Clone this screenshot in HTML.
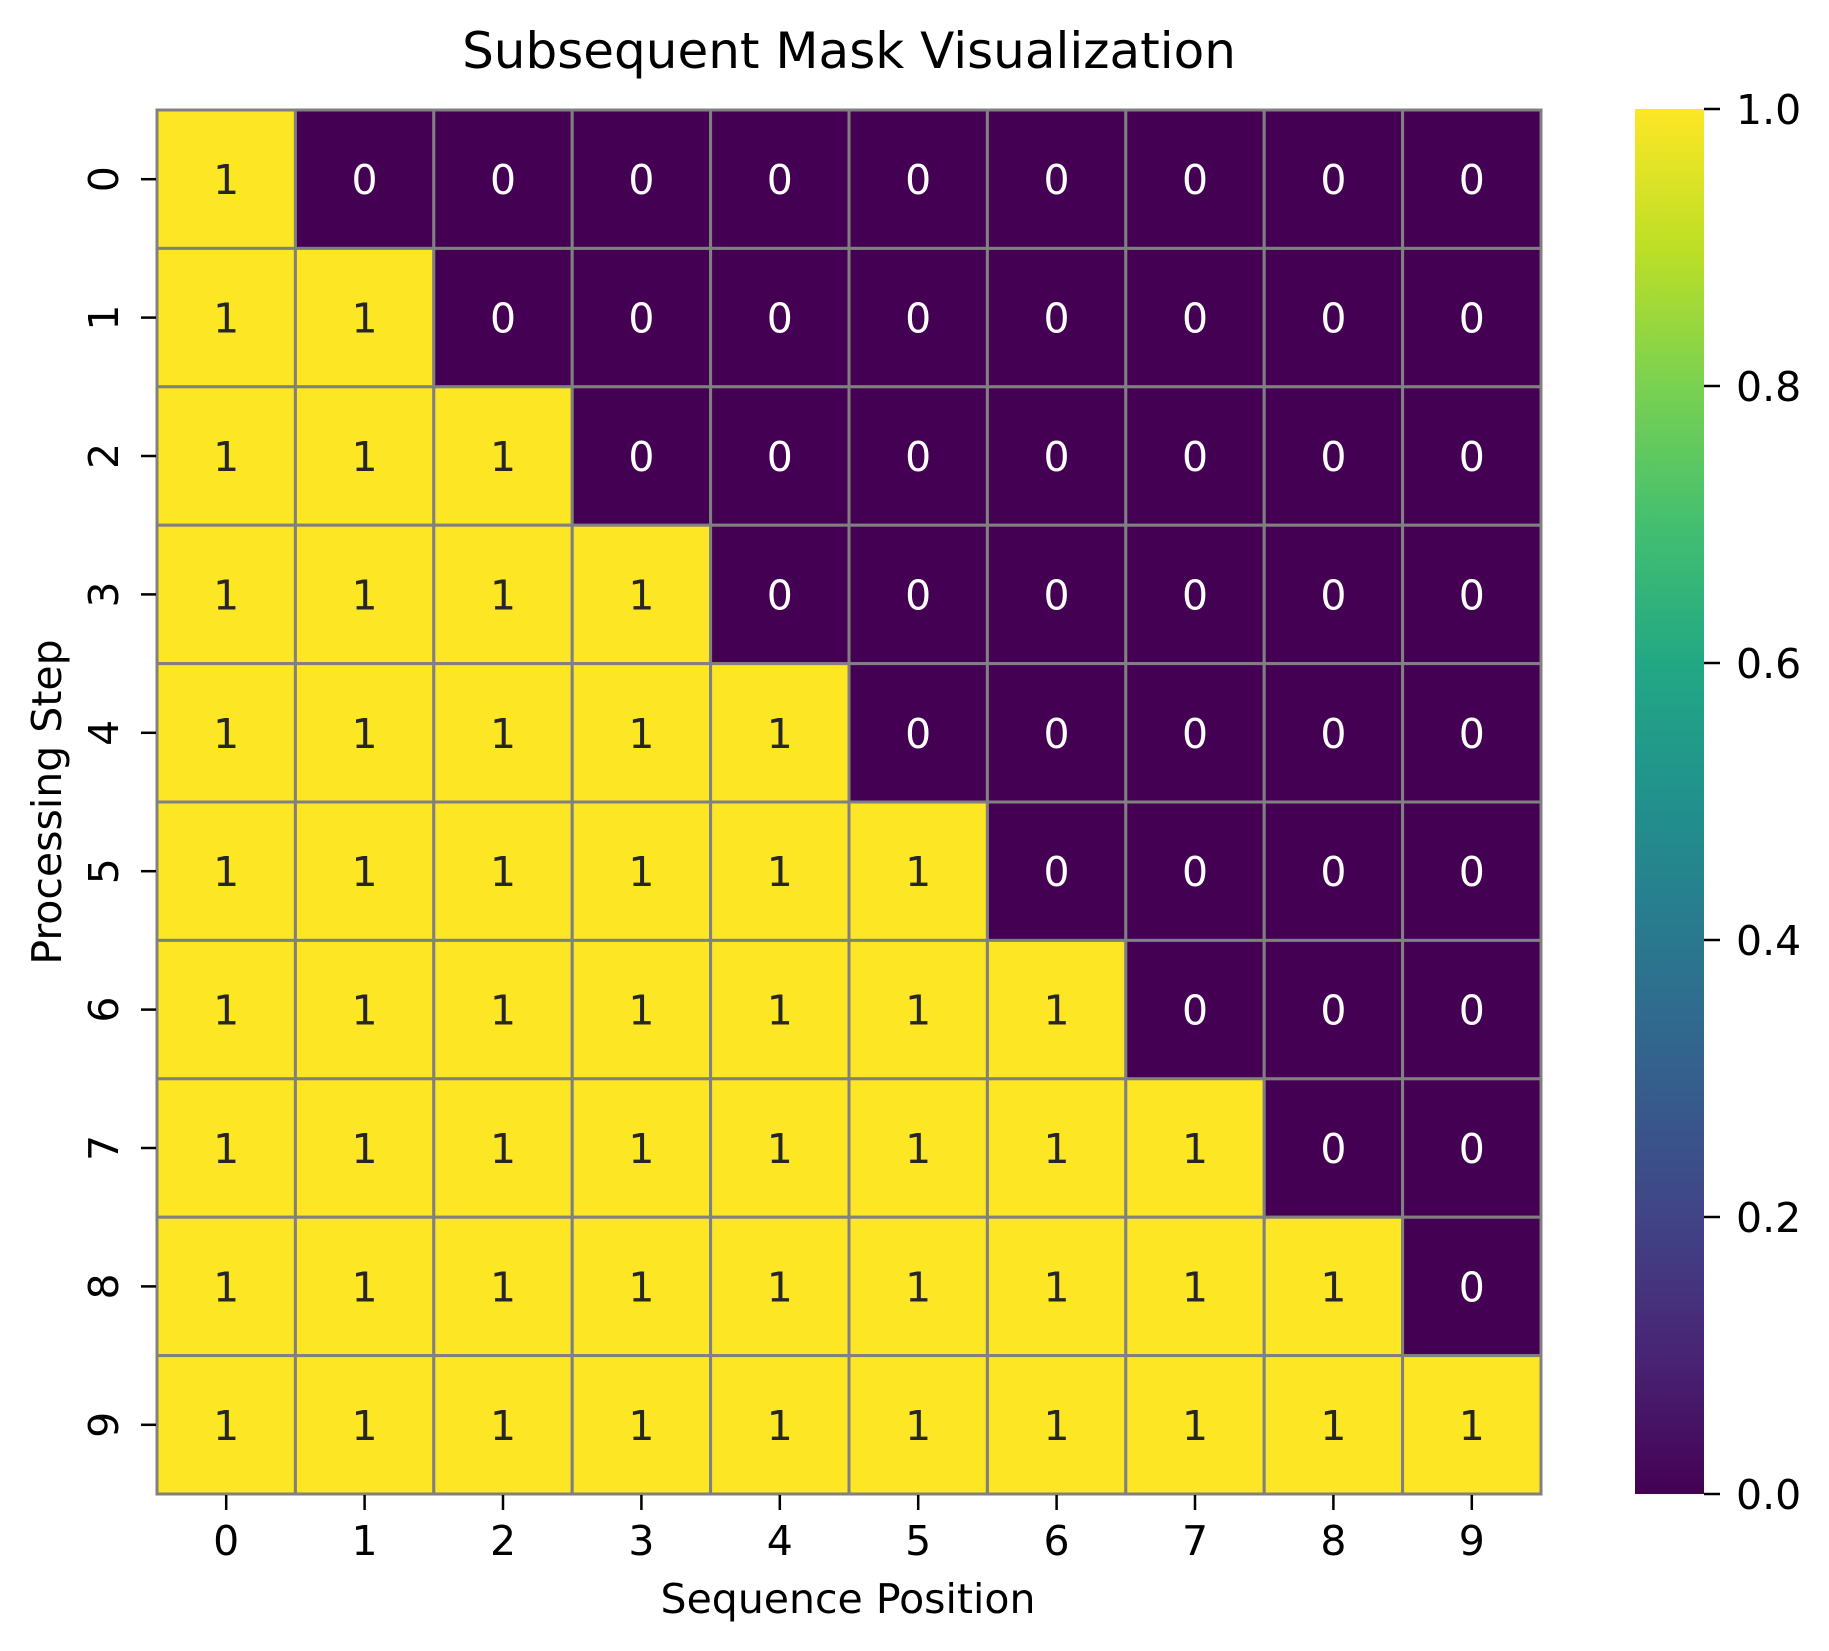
<!DOCTYPE html>
<html><head><meta charset="utf-8"><style>
html,body{margin:0;padding:0;background:#fff;}
svg{display:block;font-family:"DejaVu Sans","Liberation Sans",sans-serif;}
</style></head><body>
<svg id="chart" width="1829" height="1651" viewBox="0 0 1829 1651">
<defs>
<linearGradient id="viridis" x1="0" y1="1" x2="0" y2="0">
<stop offset="0" stop-color="#440154"/><stop offset="0.1" stop-color="#482475"/>
<stop offset="0.2" stop-color="#414487"/><stop offset="0.3" stop-color="#355f8d"/>
<stop offset="0.4" stop-color="#2a788e"/><stop offset="0.5" stop-color="#21918c"/>
<stop offset="0.6" stop-color="#22a884"/><stop offset="0.7" stop-color="#44bf70"/>
<stop offset="0.8" stop-color="#7ad151"/><stop offset="0.9" stop-color="#bddf26"/>
<stop offset="1" stop-color="#fde725"/>
</linearGradient>
</defs>
<text x="849" y="68" font-size="50" text-anchor="middle">Subsequent Mask Visualization</text>
<g id="cells"></g>
<g id="axes"></g>
<rect x="1635" y="109" width="69" height="1385" fill="url(#viridis)"/>
<g id="cbar"></g>
<text x="848" y="1613" font-size="41" text-anchor="middle">Sequence Position</text>
<text transform="translate(61,802) rotate(-90)" font-size="41" text-anchor="middle">Processing Step</text>
</svg>
<script>
const rowLabels = ['0','1','2','3','4','5','6','7','8','9'];
const colLabels = ['0','1','2','3','4','5','6','7','8','9'];
const maskValues = [
[1,0,0,0,0,0,0,0,0,0],
[1,1,0,0,0,0,0,0,0,0],
[1,1,1,0,0,0,0,0,0,0],
[1,1,1,1,0,0,0,0,0,0],
[1,1,1,1,1,0,0,0,0,0],
[1,1,1,1,1,1,0,0,0,0],
[1,1,1,1,1,1,1,0,0,0],
[1,1,1,1,1,1,1,1,0,0],
[1,1,1,1,1,1,1,1,1,0],
[1,1,1,1,1,1,1,1,1,1]
];
const cbarTicks = [0, 0.2, 0.4, 0.6, 0.8, 1.0];
const cbarTickLabels = ['0.0','0.2','0.4','0.6','0.8','1.0'];

const NS = 'http://www.w3.org/2000/svg';
const X0 = 157, X1 = 1541, Y0 = 110, Y1 = 1494;
const cw = (X1 - X0) / colLabels.length, ch = (Y1 - Y0) / rowLabels.length;
const xPos = i => X0 + i * cw;
const yPos = j => Y0 + j * ch;
const CB0 = 1494, CB1 = 109;
const cbY = v => CB0 + (CB1 - CB0) * v;
function mk(tag, attrs){ const e=document.createElementNS(NS,tag); for(const k in attrs) e.setAttribute(k,attrs[k]); return e; }
function viridis(v){ return v >= 0.5 ? '#fde725' : '#440154'; }

const cells = document.getElementById('cells');
maskValues.forEach((row, j) => row.forEach((v, i) => {
  const r = mk('rect', {x:xPos(i), y:yPos(j), width:cw, height:ch, fill:viridis(v), stroke:'#808080', 'stroke-width':3});
  
  
  cells.appendChild(r);
  const t = mk('text', {x:xPos(i)+cw/2, y:yPos(j)+ch/2+15, 'font-size':41, 'text-anchor':'middle', fill: v >= 0.5 ? '#262626' : '#ffffff'});
  t.textContent = String(v);
  
  
  cells.appendChild(t);
}));

const axes = document.getElementById('axes');
colLabels.forEach((lab, i) => {
  const cx = xPos(i) + cw/2;
  const l = mk('line', {x1:cx, x2:cx, y1:Y1+1, y2:Y1+16, stroke:'#000', 'stroke-width':2.5});
  
  
  axes.appendChild(l);
  const t = mk('text', {x:cx, y:1555, 'font-size':41, 'text-anchor':'middle'});
  t.textContent = lab;
  
  
  axes.appendChild(t);
});
rowLabels.forEach((lab, j) => {
  const cy = yPos(j) + ch/2;
  const l = mk('line', {x1:X0-16, x2:X0-1, y1:cy, y2:cy, stroke:'#000', 'stroke-width':2.5});
  
  
  axes.appendChild(l);
  const t = mk('text', {transform:'translate(118,'+cy+') rotate(-90)', 'font-size':41, 'text-anchor':'middle'});
  t.textContent = lab;
  
  
  axes.appendChild(t);
});

const cbar = document.getElementById('cbar');
cbarTicks.forEach((v, k) => {
  const y = cbY(v);
  const l = mk('line', {x1:1704, x2:1720, y1:y, y2:y, stroke:'#000', 'stroke-width':2.5});
  
  
  cbar.appendChild(l);
  const t = mk('text', {x:1736, y:y+15, 'font-size':41});
  t.textContent = cbarTickLabels[k];
  
  
  cbar.appendChild(t);
});
</script>
</body></html>
